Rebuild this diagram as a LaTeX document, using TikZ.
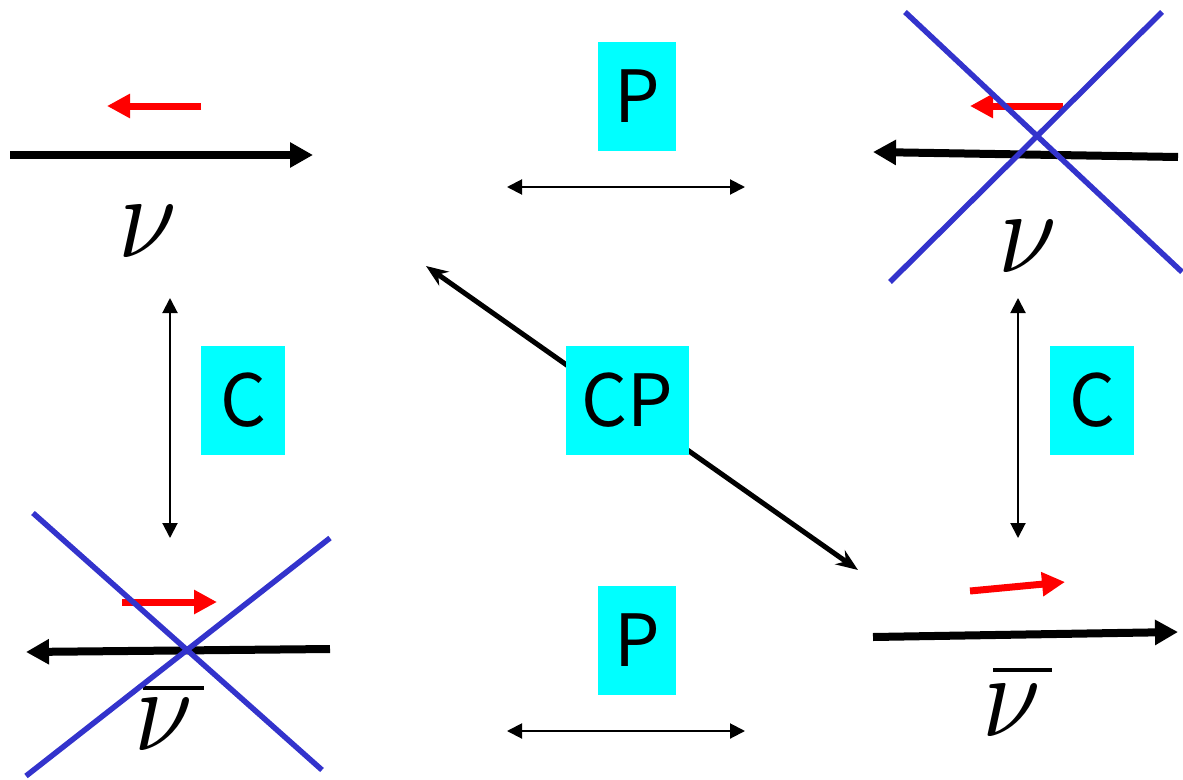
\documentclass[tikz,border=0pt]{standalone}
\usepackage{fontspec}
\newfontfamily\gothic{Noto Sans CJK JP}
\usetikzlibrary{arrows.meta}
\definecolor{xblue}{RGB}{51,51,204}
\definecolor{boxcyan}{RGB}{0,255,255}
\newcommand{\bignu}{\scalebox{10.5}[12]{$\nu$}}
\begin{document}
\begin{tikzpicture}[x=1pt,y=-1pt,
  bigarrow/.style={line width=8pt,-{Triangle[length=23pt,width=24pt]}},
  spinarrow/.style={red,line width=7pt,-{Triangle[length=23pt,width=23pt]}},
  thinarrow/.style={line width=2pt,{Triangle[length=15pt,width=15pt]}-{Triangle[length=15pt,width=15pt]}},
  cparrow/.style={line width=5pt,{Stealth[length=22pt,width=17pt]}-{Stealth[length=22pt,width=17pt]}},
  cross/.style={xblue,line width=5.5pt},
  opbox/.style={fill=boxcyan,minimum height=109pt,inner sep=0pt,font=\gothic\fontsize{72}{80}\selectfont},
  nulabel/.style={inner sep=0pt},
  nubar/.style={line width=3.5pt}]
\useasboundingbox (0,0) rectangle (1183,779);
% coordinates
\coordinate (tlA) at (10,155);   \coordinate (tlB) at (313,155);
\coordinate (tlrA) at (201,106); \coordinate (tlrB) at (107,106);
\coordinate (trA) at (1178,157); \coordinate (trB) at (873,152);
\coordinate (trrA) at (1063,106);\coordinate (trrB) at (970,106);
\coordinate (blA) at (330,649);  \coordinate (blB) at (26,652);
\coordinate (blrA) at (122,602); \coordinate (blrB) at (217,602);
\coordinate (brA) at (873,637);  \coordinate (brB) at (1178,632);
\coordinate (brrA) at (970,591); \coordinate (brrB) at (1065,582);
\coordinate (pTa) at (507,187);  \coordinate (pTb) at (745,187);
\coordinate (pBa) at (507,731);  \coordinate (pBb) at (745,731);
\coordinate (cLa) at (170,298);  \coordinate (cLb) at (170,538);
\coordinate (cRa) at (1018,298); \coordinate (cRb) at (1018,538);
\coordinate (cpA) at (426,266);  \coordinate (cpB) at (858,570);
\coordinate (x1a) at (905,12);   \coordinate (x1b) at (1182,272);
\coordinate (x2a) at (1162,12);  \coordinate (x2b) at (890,282);
\coordinate (x3a) at (33,513);   \coordinate (x3b) at (322,770);
\coordinate (x4a) at (330,538);  \coordinate (x4b) at (26,776);
% transformation arrows
\draw[thinarrow] (pTa) -- (pTb);
\draw[thinarrow] (pBa) -- (pBb);
\draw[thinarrow] (cLa) -- (cLb);
\draw[thinarrow] (cRa) -- (cRb);
\draw[cparrow] (cpA) -- (cpB);
% operator boxes
\node[opbox,minimum width=78pt] (Ptop) at (637,96.5) {P};
\node[opbox,minimum width=78pt] (Pbot) at (637,640) {P};
\node[opbox,minimum width=84pt] (Cleft) at (243,400.5) {C};
\node[opbox,minimum width=84pt] (Cright) at (1092,400.5) {C};
\node[opbox,minimum width=123pt] (CP) at (627.5,400.5) {CP};
% momentum and spin arrows
\draw[bigarrow] (tlA) -- (tlB);
\draw[spinarrow] (tlrA) -- (tlrB);
\draw[bigarrow] (trA) -- (trB);
\draw[spinarrow] (trrA) -- (trrB);
\draw[bigarrow] (blA) -- (blB);
\draw[spinarrow] (blrA) -- (blrB);
\draw[bigarrow] (brA) -- (brB);
\draw[spinarrow] (brrA) -- (brrB);
% labels
\node[nulabel] (nuTL) at (148,232) {\bignu};
\node[nulabel] (nuTR) at (1028,247) {\bignu};
\node[nulabel] (nuBL) at (164,725) {\bignu};
\node[nulabel] (nuBR) at (1012,711) {\bignu};
\draw[nubar] ([shift={(-21pt,37pt)}]nuBL.center) -- ([shift={(40pt,37pt)}]nuBL.center);
\draw[nubar] ([shift={(-19pt,41pt)}]nuBR.center) -- ([shift={(40pt,41pt)}]nuBR.center);
% crosses
\draw[cross] (x1a) -- (x1b);
\draw[cross] (x2a) -- (x2b);
\draw[cross] (x3a) -- (x3b);
\draw[cross] (x4a) -- (x4b);
\end{tikzpicture}
\end{document}
